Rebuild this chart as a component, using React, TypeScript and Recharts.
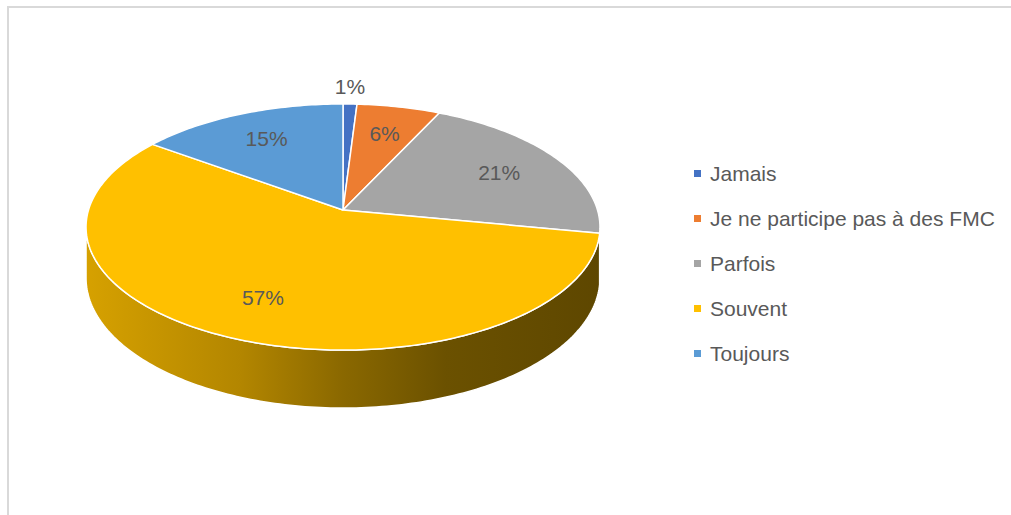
import React from 'react';
import { PieChart, Pie, Cell, Legend } from 'recharts';

// ---- data ----
const categories: string[] = ['Jamais', 'Je ne participe pas à des FMC', 'Parfois', 'Souvent', 'Toujours'];
const values: number[] = [1, 6, 21, 57, 15];
const colors: string[] = ['#4472C4', '#ED7D31', '#A5A5A5', '#FFC000', '#5B9BD5'];

const data = categories.map((name, i) => ({ name, value: values[i] }));

// ---- 3D look (perspective of a tilted disc) ----
const TILT = 0.4743; // vertical / horizontal radius
const K = 0.1382; // perspective strength
const DEPTH = 50; // thickness of the disc
const FONT = "'Liberation Sans', Arial, sans-serif";
const TEXT = '#595959';

function rim(cx: number, cy: number, rx: number, phiDeg: number, r = 1) {
  const p = (phiDeg * Math.PI) / 180;
  const u = Math.sin(p) * r;
  const v = Math.cos(p) * r;
  const s = 1 / (1 + K * v);
  return { x: cx + rx * u * s, y: cy - rx * TILT * v * s, s };
}

function shade(hex: string, f: number) {
  const n = parseInt(hex.slice(1), 16);
  const r = Math.round(((n >> 16) & 255) * f);
  const g = Math.round(((n >> 8) & 255) * f);
  const b = Math.round((n & 255) * f);
  return `rgb(${r},${g},${b})`;
}

function Sector3D(props: any) {
  const { cx, cy, outerRadius, startAngle, endAngle, fill } = props;
  const rx = outerRadius;
  const p0 = 90 - startAngle;
  const p1 = 90 - endAngle;
  const steps = Math.max(2, Math.ceil(Math.abs(p1 - p0)));
  const pts: string[] = [];
  for (let i = 0; i <= steps; i++) {
    const q = rim(cx, cy, rx, p0 + ((p1 - p0) * i) / steps);
    pts.push(`${q.x.toFixed(2)},${q.y.toFixed(2)}`);
  }
  const top = `M${cx},${cy} L${pts.join(' L')} Z`;

  // visible side range
  const phiR = (Math.acos(-K) * 180) / Math.PI;
  const phiL = 360 - phiR;
  const a = Math.max(p0, phiR);
  const b = Math.min(p1, phiL);
  let side: string | null = null;
  const gid = `side-${Math.round(startAngle * 100)}`;
  const half = rx / Math.sqrt(1 - K * K);
  if (b > a) {
    const n = Math.max(2, Math.ceil(b - a));
    const up: string[] = [];
    const down: string[] = [];
    for (let i = 0; i <= n; i++) {
      const q = rim(cx, cy, rx, a + ((b - a) * i) / n);
      up.push(`${q.x.toFixed(2)},${q.y.toFixed(2)}`);
      down.push(`${q.x.toFixed(2)},${(q.y + DEPTH * q.s).toFixed(2)}`);
    }
    side = `M${up.join(' L')} L${down.reverse().join(' L')} Z`;
  }
  return (
    <g>
      {side && (
        <>
          <defs>
            <linearGradient id={gid} gradientUnits="userSpaceOnUse" x1={cx - half} y1={0} x2={cx + half} y2={0}>
              <stop offset="0" stopColor={shade(fill, 0.84)} />
              <stop offset="0.3" stopColor={shade(fill, 0.7)} />
              <stop offset="0.5" stopColor={shade(fill, 0.54)} />
              <stop offset="0.7" stopColor={shade(fill, 0.42)} />
              <stop offset="1" stopColor={shade(fill, 0.37)} />
            </linearGradient>
          </defs>
          <path d={side} fill={`url(#${gid})`} stroke="#ffffff" strokeWidth={1.5} strokeLinejoin="round" />
        </>
      )}
      <path d={top} fill={fill} stroke="#ffffff" strokeWidth={1.5} strokeLinejoin="round" />
    </g>
  );
}

function renderLabel(props: any) {
  const { cx, cy, outerRadius, midAngle, percent } = props;
  const phi = 90 - midAngle;
  const txt = `${Math.round(percent * 100)}%`;
  if (percent < 0.03) {
    const q = rim(cx, cy, outerRadius, phi, 1);
    return (
      <text x={q.x} y={q.y - 17} textAnchor="middle" dominantBaseline="central" fill={TEXT} fontSize={21} fontFamily={FONT}>
        {txt}
      </text>
    );
  }
  const q = rim(cx, cy, outerRadius, phi, 0.72);
  return (
    <text x={q.x} y={q.y} textAnchor="middle" dominantBaseline="central" fill={TEXT} fontSize={21} fontFamily={FONT}>
      {txt}
    </text>
  );
}

function renderLegend(props: any) {
  const { payload } = props;
  return (
    <div style={{ fontFamily: FONT, fontSize: 21, color: TEXT }}>
      {(payload || []).map((entry: any, i: number) => (
        <div key={i} style={{ height: 45, display: 'flex', alignItems: 'center', whiteSpace: 'nowrap' }}>
          <span style={{ display: 'inline-block', width: 7, height: 7, background: entry.color, marginRight: 9 }} />
          <span>{entry.value}</span>
        </div>
      ))}
    </div>
  );
}

export default function App() {
  return (
    <div style={{ position: 'absolute', left: 0, top: 0, width: 1011, height: 515, overflow: 'hidden', background: '#ffffff' }}>
      <div
        style={{
          position: 'absolute',
          left: 7,
          top: 6,
          width: 1100,
          height: 600,
          border: '2px solid #d9d9d9',
          boxSizing: 'border-box',
        }}
      />
      <div style={{ position: 'absolute', left: 0, top: 0 }}>
        <PieChart width={1011} height={515} margin={{ top: 0, right: 0, bottom: 0, left: 0 }}>
          <Pie
            data={data}
            dataKey="value"
            nameKey="name"
            cx={343}
            cy={210}
            outerRadius={254.5}
            startAngle={90}
            endAngle={-270}
            stroke="#ffffff"
            isAnimationActive={false}
            labelLine={false}
            label={renderLabel}
            shape={Sector3D}
          >
            {data.map((d, i) => (
              <Cell key={d.name} fill={colors[i]} />
            ))}
          </Pie>
          <Legend
            layout="vertical"
            align="right"
            verticalAlign="top"
            content={renderLegend}
            wrapperStyle={{ left: 694, top: 151, width: 317, right: 'auto' }}
          />
        </PieChart>
      </div>
    </div>
  );
}
